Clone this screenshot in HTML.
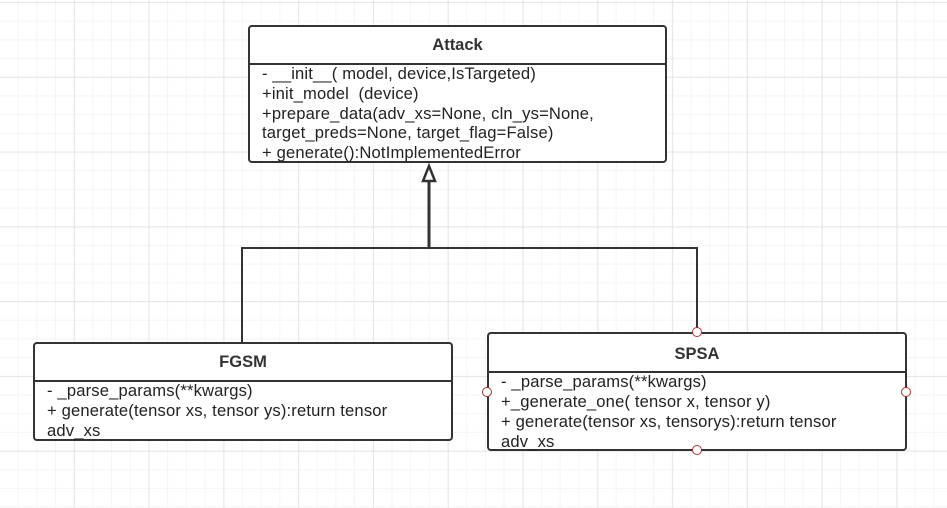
<!DOCTYPE html>
<html><head><style>
body{margin:0;width:947px;height:508px;overflow:hidden;background:#fff;
background-image:linear-gradient(#e6e6e6 1px,transparent 1px),linear-gradient(90deg,#e6e6e6 1px,transparent 1px),linear-gradient(#f4f4f4 1px,transparent 1px),linear-gradient(90deg,#f4f4f4 1px,transparent 1px);
background-size:74.8px 74.8px,74.8px 74.8px,18.7px 18.7px,18.7px 18.7px;background-position:-1px 2px;
font-family:"Liberation Sans","Noto Sans CJK SC",sans-serif;}
.box{position:absolute;border:2px solid #333;border-radius:4px;background:#fff;box-sizing:border-box;}
.h{font-weight:bold;text-align:center;border-bottom:2px solid #333;font-size:16.5px;color:#333;}
.b{font-size:16.6px;line-height:20px;color:#222;padding-left:12px;white-space:pre;letter-spacing:0.15px}
.dot{position:absolute;width:8px;height:8px;border:1px solid #a33;border-radius:50%;background:#fff;}
</style></head><body>
<svg width="947" height="508" style="position:absolute;left:0;top:0">
<path d="M242 343 V248 H429 M429 248 H697 V332" fill="none" stroke="#333" stroke-width="2"/>
<path d="M429 249 V180" fill="none" stroke="#333" stroke-width="3"/>
<polygon points="429,166 423,181 435,181" fill="#fff" stroke="#333" stroke-width="2.5"/>
</svg>
<div class="box" style="left:248px;top:25px;width:419px;height:138px">
<div class="h" style="height:36px;line-height:36px">Attack</div>
<div class="b" style="padding-left:12px;line-height:19.8px;margin-top:-1px">- __init__( model, device,IsTargeted)
+init_model  (device)
+prepare_data(adv_xs=None, cln_ys=None,
target_preds=None, target_flag=False)
+ generate():NotImplementedError</div></div>
<div class="box" style="left:33px;top:342px;width:420px;height:99px">
<div class="h" style="height:36px;line-height:36px">FGSM</div>
<div class="b" style="margin-top:-1px">- _parse_params(**kwargs)
+ generate(tensor xs, tensor ys):return tensor
adv_xs</div></div>
<div class="box" style="left:487px;top:332px;width:420px;height:119px">
<div class="h" style="height:37px;line-height:40px">SPSA</div>
<div class="b" style="margin-top:-1px">- _parse_params(**kwargs)
+_generate_one( tensor x, tensor y)
+ generate(tensor xs, tensorys):return tensor
adv_xs</div></div>
<div class="dot" style="left:692px;top:327px"></div>
<div class="dot" style="left:692px;top:445px"></div>
<div class="dot" style="left:482px;top:387px"></div>
<div class="dot" style="left:901px;top:387px"></div>
</body></html>
